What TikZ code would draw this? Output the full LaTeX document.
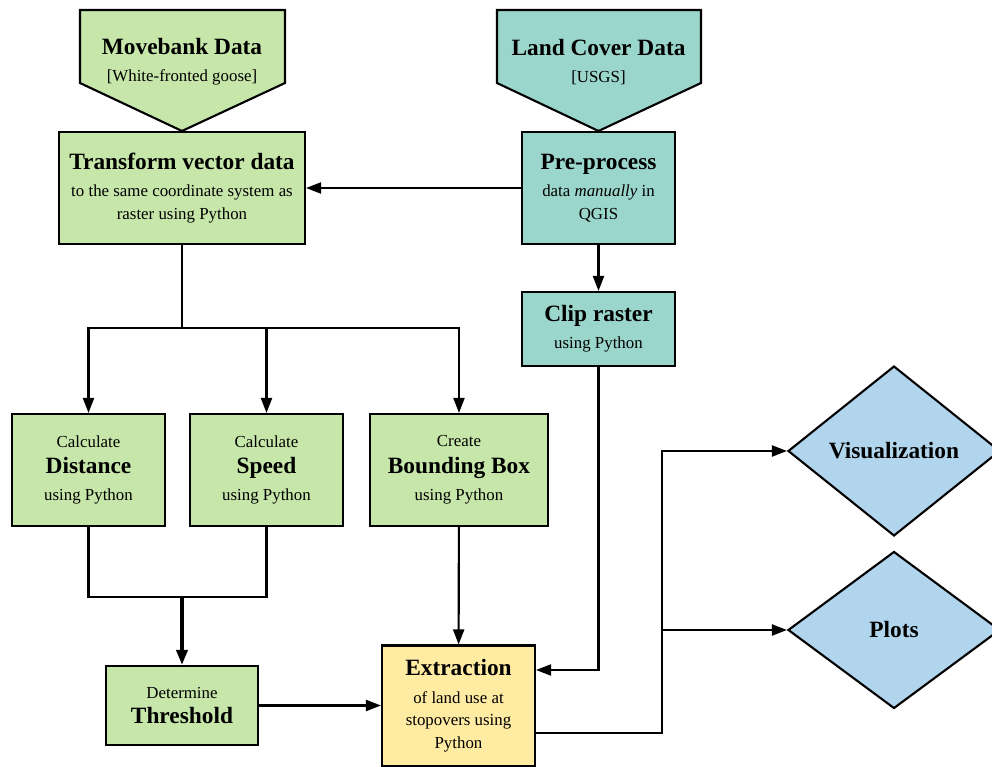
\documentclass[tikz,border=0pt]{standalone}
\usepackage{fontspec}
\setmainfont{Liberation Serif}
\usetikzlibrary{shapes.geometric, arrows.meta, positioning}
\definecolor{movegreen}{RGB}{198,230,170}
\definecolor{landteal}{RGB}{154,214,203}
\definecolor{extractyellow}{RGB}{255,235,162}
\definecolor{outblue}{RGB}{178,213,238}
\tikzstyle{block} = [rectangle, draw, text centered, align=center, inner sep=0pt, line width=1.2pt, fill=movegreen]
\tikzstyle{source} = [draw, line width=1.2pt, line join=miter]
\tikzstyle{output} = [diamond, draw, line width=1.2pt, fill=outblue, inner sep=0pt, minimum width=4.24cm]
\tikzstyle{arrow} = [line width=1.2pt,->,>={Triangle[length=0.3cm,width=0.22cm]}]
\tikzstyle{line} = [line width=1.2pt]
\newcommand{\ttl}[1]{{\fontsize{13.3}{16}\selectfont\bfseries #1}}

\begin{document}
\begin{tikzpicture}[x=0.02cm, y=-0.02cm, font=\fontsize{9.6}{13}\selectfont]
\useasboundingbox (0,0) rectangle (992,767);

% Data sources
\draw[source, fill=movegreen] (80,10) -- (285,10) -- (285,83) -- (182,131) -- (80,83) -- cycle;
\node (movebank) [align=center] at (182,62) {\ttl{Movebank Data}\\[2.5pt][White-fronted goose]};
\draw[source, fill=landteal] (497,10) -- (701,10) -- (701,83) -- (598.5,131) -- (497,83) -- cycle;
\node (landcover) [align=center] at (598.5,62) {\ttl{Land Cover Data}\\[2.5pt][USGS]};

% Nodes for Block Diagram
\node (transform) [block, minimum width=4.92cm, minimum height=2.24cm] at (182,188) {\ttl{Transform vector data}\\[2.5pt]to the same coordinate system as\\raster using Python};
\node (preprocess) [block, fill=landteal, minimum width=3.06cm, minimum height=2.24cm] at (598.5,188) {\ttl{Pre-process}\\[2.5pt]data \textit{manually} in\\QGIS};
\node (clip) [block, fill=landteal, minimum width=3.06cm, minimum height=1.48cm] at (598.5,329) {\ttl{Clip raster}\\[2.5pt]using Python};
\node (distance) [block, minimum width=3.06cm, minimum height=2.24cm] at (88.5,470) {Calculate\\[2pt]\ttl{Distance}\\[2.5pt]using Python};
\node (speed) [block, minimum width=3.06cm, minimum height=2.24cm] at (266.5,470) {Calculate\\[2pt]\ttl{Speed}\\[2.5pt]using Python};
\node (bbox) [block, minimum width=3.56cm, minimum height=2.24cm] at (459,470) {Create\\[2pt]\ttl{Bounding Box}\\[2.5pt]using Python};
\node (threshold) [block, minimum width=3.04cm, minimum height=1.58cm] at (182,705.5) {Determine\\[1pt]\ttl{Threshold}};
\node (extraction) [block, fill=extractyellow, minimum width=3.06cm, minimum height=2.42cm] at (458.5,706) {\ttl{Extraction}\\[2.5pt]of land use at\\stopovers using\\Python};
\node (vis) [output, minimum height=3.4cm] at (894,451) {\ttl{Visualization}};
\node (plots) [output, minimum height=3.14cm] at (894,630) {\ttl{Plots}};

\coordinate (split) at (182,328);
\coordinate (merge) at (182,597);
\coordinate (fork) at (662,733);

% Arrows Connecting Components
\draw[arrow] (preprocess) -- (transform);
\draw[arrow] (preprocess) -- (clip);
\draw[line] (transform.south) -- (split);
\draw[arrow] (split) -| (distance.north);
\draw[arrow] (split) -| (speed.north);
\draw[arrow] (split) -| (bbox.north);
\draw[line] (distance.south) |- (merge) -| (speed.south);
\draw[arrow, line width=2pt] (merge) -- (threshold.north);
\draw[arrow] (threshold.east) -- (threshold.east -| extraction.west);
\draw[arrow] (bbox) -- (extraction);
\draw[arrow] (clip.south) |- (extraction.east |- 0,670);
\draw[arrow] (extraction.east |- fork) -- (fork) |- (vis.west);
\draw[arrow] (fork |- plots.west) -- (plots.west);

\end{tikzpicture}
\end{document}
